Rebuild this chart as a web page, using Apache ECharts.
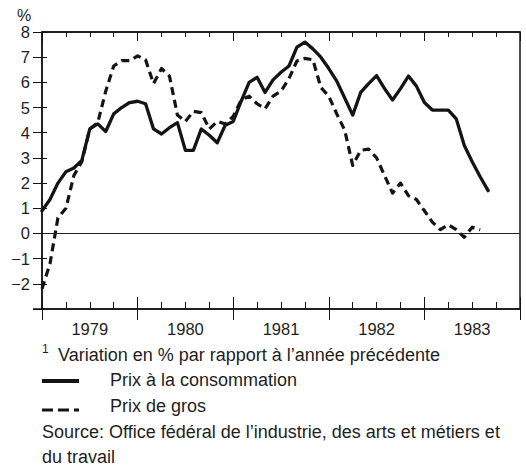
<!DOCTYPE html>
<html>
<head>
<meta charset="utf-8">
<script src="https://cdn.jsdelivr.net/npm/echarts@6/dist/echarts.min.js"></script>
<style>
  html, body { margin: 0; padding: 0; background: #fff; }
  #chart { width: 526px; height: 467px; }
</style>
</head>
<body>
<div id="chart"></div>
<script>
// monthly values from Jan 1979 (index 0), % change on the previous year
const startYear = 1979
const years = [1979, 1980, 1981, 1982, 1983]
const consumerPrices = [
  0.9, 1.35, 2.0, 2.45, 2.6, 2.9, 4.15, 4.35, 4.05, 4.75, 5.0, 5.2,
  5.25, 5.15, 4.15, 3.95, 4.2, 4.4, 3.3, 3.3, 4.15, 3.9, 3.6, 4.3,
  4.45, 5.25, 6.0, 6.2, 5.6, 6.1, 6.4, 6.65, 7.4, 7.6, 7.33, 7.0,
  6.55, 6.05, 5.38, 4.7, 5.6, 5.95, 6.27, 5.75, 5.3, 5.75, 6.25, 5.85,
  5.2, 4.9, 4.9, 4.9, 4.55, 3.5, 2.85, 2.25, 1.7
]
const wholesalePrices = [
  -2.2, -1.2, 0.62, 1.0, 2.3, 2.85, 4.15, 4.4, 5.65, 6.65, 6.86, 6.86,
  7.05, 6.9, 5.95, 6.55, 6.25, 4.7, 4.45, 4.85, 4.8, 4.15, 4.45, 4.35,
  4.65, 5.3, 5.45, 5.15, 4.95, 5.45, 5.65, 6.15, 6.85, 6.95, 6.9, 5.8,
  5.45, 4.75, 4.1, 2.7, 3.3, 3.35, 3.0, 2.3, 1.6, 2.0, 1.5, 1.35,
  0.9, 0.45, 0.15, 0.35, 0.15, -0.15, 0.25, 0.15
]
const yTicks = { min: -3, max: 8, step: 1 }

const font = '"Liberation Sans", Arial, Helvetica, sans-serif'
const ink = '#141414'

const xBase = {
  type: 'value', min: 0, max: years.length * 12,
  axisLine: { onZero: false, lineStyle: { color: ink, width: 1.5 } },
  axisLabel: { show: false },
  splitLine: { show: false }
}
const tickStyle = { color: ink, width: 1 }

const option = {
  animation: false,
  grid: {
    left: 42, right: 6, top: 32, bottom: 158,
    show: true, borderColor: ink, borderWidth: 1.5
  },
  xAxis: [
    Object.assign({}, xBase, {
      position: 'bottom', interval: 3,
      axisTick: { inside: true, length: 7, lineStyle: tickStyle },
      axisLabel: {
        show: true, margin: 11, fontSize: 16.5, color: '#1e1e1e', fontFamily: font,
        formatter: v => (v % 12 === 6 ? String(startYear + (v - 6) / 12) : '')
      }
    }),
    Object.assign({}, xBase, {
      position: 'bottom', interval: 12,
      axisLine: { show: false, onZero: false },
      axisTick: { inside: true, length: 12, lineStyle: tickStyle }
    }),
    Object.assign({}, xBase, {
      position: 'bottom', interval: 12,
      axisLine: { show: false, onZero: false },
      axisTick: { inside: false, length: 11, lineStyle: tickStyle }
    }),
    Object.assign({}, xBase, {
      position: 'top', interval: 3,
      axisTick: { inside: true, length: 5, lineStyle: tickStyle }
    }),
    Object.assign({}, xBase, {
      position: 'top', interval: 12,
      axisLine: { show: false, onZero: false },
      axisTick: { inside: true, length: 9, lineStyle: tickStyle }
    })
  ],
  yAxis: [
    {
      type: 'value', position: 'left',
      min: yTicks.min, max: yTicks.max, interval: yTicks.step,
      axisLine: { show: true, onZero: false, lineStyle: { color: ink, width: 1.5 } },
      axisTick: { show: true, inside: false, length: 9, lineStyle: tickStyle },
      axisLabel: {
        margin: 12, fontSize: 16.5, color: '#1e1e1e', fontFamily: font,
        formatter: v => (v === yTicks.min ? '' : v < 0 ? '\u2212' + (-v) : String(v))
      },
      splitLine: { show: false }
    },
    {
      type: 'value', position: 'left',
      min: yTicks.min, max: yTicks.max, interval: yTicks.step,
      axisLine: { show: false, onZero: false },
      axisTick: { show: true, inside: true, length: 5, lineStyle: tickStyle },
      axisLabel: { show: false },
      splitLine: { show: false }
    }
  ],
  series: [
    {
      name: 'Prix à la consommation', type: 'line',
      xAxisIndex: 0, yAxisIndex: 0,
      data: consumerPrices.map((v, i) => [i, v]),
      showSymbol: false, symbol: 'none',
      lineStyle: { color: ink, width: 3.3, cap: 'round', join: 'round' },
      markLine: {
        silent: true, symbol: 'none', label: { show: false },
        lineStyle: { color: '#222', width: 1.2, type: 'solid' },
        data: [{ yAxis: 0 }]
      },
      z: 3
    },
    {
      name: 'Prix de gros', type: 'line',
      xAxisIndex: 0, yAxisIndex: 0,
      data: wholesalePrices.map((v, i) => [i, v]),
      showSymbol: false, symbol: 'none',
      lineStyle: { color: ink, width: 3.2, type: [8, 5], join: 'round' },
      z: 2
    }
  ],
  graphic: [
    { type: 'text', style: { x: 17, y: 15, text: '%', font: '16px ' + font, fill: '#1e1e1e', verticalAlign: 'middle' } },
    { type: 'line', shape: { x1: 33, y1: 309, x2: 42, y2: 309 }, style: { stroke: ink, lineWidth: 1.5 } },
    { type: 'text', style: { x: 42, y: 349, text: '1', font: '12px ' + font, fill: '#1e1e1e', verticalAlign: 'middle' } },
    { type: 'text', style: { x: 58, y: 355, text: 'Variation en % par rapport à l’année précédente', font: '18px ' + font, fill: '#1e1e1e', verticalAlign: 'middle' } },
    { type: 'line', shape: { x1: 42, y1: 381, x2: 79, y2: 381 }, style: { stroke: ink, lineWidth: 4 } },
    { type: 'text', style: { x: 110, y: 380, text: 'Prix à la consommation', font: '18px ' + font, fill: '#1e1e1e', verticalAlign: 'middle' } },
    { type: 'line', shape: { x1: 42, y1: 410, x2: 79, y2: 410 }, style: { stroke: ink, lineWidth: 3, lineDash: [11, 5] } },
    { type: 'text', style: { x: 110, y: 406, text: 'Prix de gros', font: '18px ' + font, fill: '#1e1e1e', verticalAlign: 'middle' } },
    { type: 'text', style: { x: 42, y: 432, text: 'Source: Office fédéral de l’industrie, des arts et métiers et', font: '18px ' + font, fill: '#1e1e1e', verticalAlign: 'middle' } },
    { type: 'text', style: { x: 42, y: 457, text: 'du travail', font: '18px ' + font, fill: '#1e1e1e', verticalAlign: 'middle' } }
  ]
}

const chart = echarts.init(document.getElementById('chart'), null, { renderer: 'svg' })
chart.setOption(option)
window.addEventListener('resize', () => chart.resize())
</script>
</body>
</html>
